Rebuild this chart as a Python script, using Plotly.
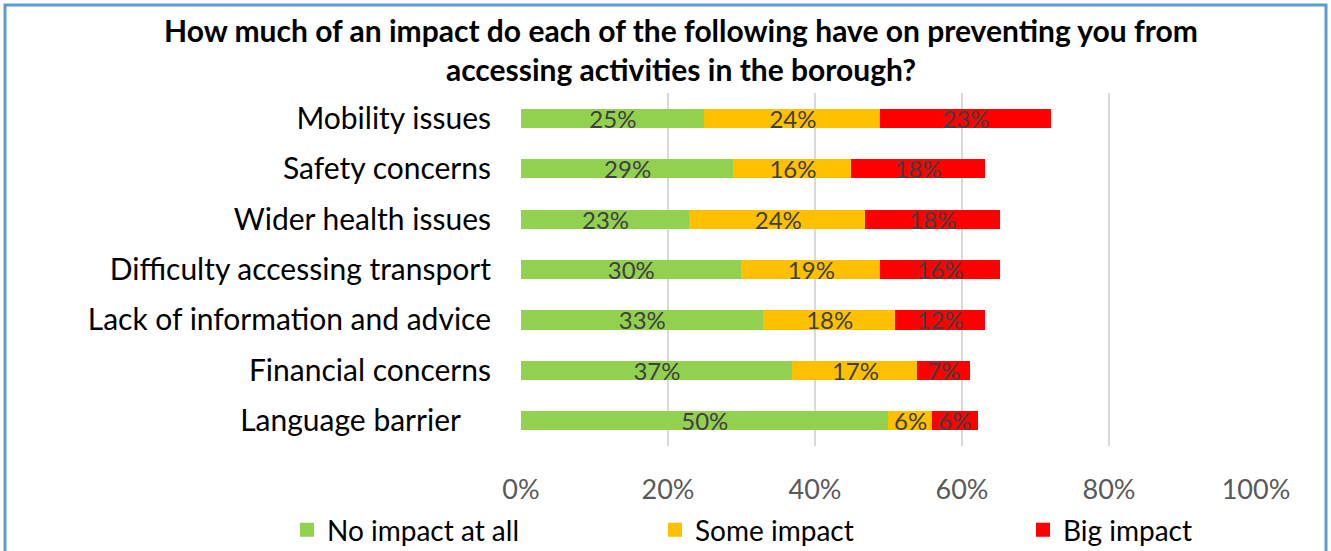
import plotly.graph_objects as go

# Survey responses: share of respondents per barrier (percent)
barriers = [
    "Mobility issues",
    "Safety concerns",
    "Wider health issues",
    "Difficulty accessing transport",
    "Lack of information and advice",
    "Financial concerns",
    "Language barrier\u00a0\u00a0\u00a0\u00a0",
]
no_impact = [25, 29, 23, 30, 33, 37, 50]
some_impact = [24, 16, 24, 19, 18, 17, 6]
big_impact = [23, 18, 18, 16, 12, 7, 6]

series_names = ["No impact at all", "Some impact", "Big impact"]
series_colors = ["#92D050", "#FFC000", "#FF0000"]
x_ticks = [0, 20, 40, 60, 80, 100]

FONT = "Lato"
W, H = 1331, 551
# plot area in pixels
PL, PR, PT, PB = 521, 1256, 93, 446


def px_x(p):
    return (p - PL) / (PR - PL)


def px_y(p):
    return (PB - p) / (PB - PT)


fig = go.Figure()
legend_ids = ["legend", "legend2", "legend3"]
for name, vals, color, lg in zip(series_names, [no_impact, some_impact, big_impact],
                                 series_colors, legend_ids):
    fig.add_trace(go.Bar(
        y=barriers,
        x=vals,
        name=name,
        orientation="h",
        # a same-colour outline also enlarges the legend swatch
        marker=dict(color=color, line=dict(width=2, color=color)),
        text=[f"{v}%" for v in vals],
        textposition="inside",
        insidetextanchor="middle",
        constraintext="none",
        textfont=dict(family=FONT, size=24, color="#404040"),
        legend=lg,
        showlegend=True,
        hoverinfo="skip",
    ))

legend_common = dict(
    orientation="h",
    font=dict(family=FONT, size=28, color="#000000"),
    bgcolor="rgba(0,0,0,0)",
    xref="container",
    yref="container",
    xanchor="left",
    yanchor="middle",
    y=1 - 530 / H,
    itemsizing="constant",
    visible=True,
)

fig.update_layout(
    width=W,
    height=H,
    barmode="stack",
    bargap=0.66,
    showlegend=True,
    plot_bgcolor="white",
    paper_bgcolor="white",
    margin=dict(l=PL, r=W - PR, t=PT, b=H - PB, autoexpand=False),
    title=dict(
        text="How much of an impact do each of the following have on preventing you from<br>"
             "accessing activities in the borough?",
        font=dict(family=FONT, size=30, color="#000000", weight="bold"),
        x=px_x(681),
        xref="paper",
        xanchor="center",
        y=1 - 42 / H,
        yref="container",
        yanchor="top",
    ),
    xaxis=dict(
        range=[0, 100],
        tickvals=x_ticks,
        ticktext=[f"{t}%" for t in x_ticks],
        showgrid=True,
        gridcolor="#D9D9D9",
        gridwidth=2,
        zeroline=False,
        showline=False,
        ticks="",
        ticklabelstandoff=25,
        tickfont=dict(family=FONT, size=27, color="#595959"),
        fixedrange=True,
    ),
    yaxis=dict(
        autorange="reversed",
        showgrid=False,
        zeroline=False,
        showline=False,
        ticks="",
        ticklabelstandoff=29,
        tickfont=dict(family=FONT, size=30, color="#000000"),
        automargin=False,
    ),
    legend=dict(x=(312 - 25) / W, **legend_common),
    legend2=dict(x=(680 - 25) / W, **legend_common),
    legend3=dict(x=(1048 - 25) / W, **legend_common),
    shapes=[
        dict(
            type="rect",
            xref="paper", yref="paper",
            x0=px_x(5), x1=px_x(1326),
            y0=px_y(570), y1=px_y(5),
            line=dict(color="#5B9BD5", width=3),
            fillcolor="rgba(0,0,0,0)",
            layer="above",
        )
    ],
)

fig.write_html("out.html")
